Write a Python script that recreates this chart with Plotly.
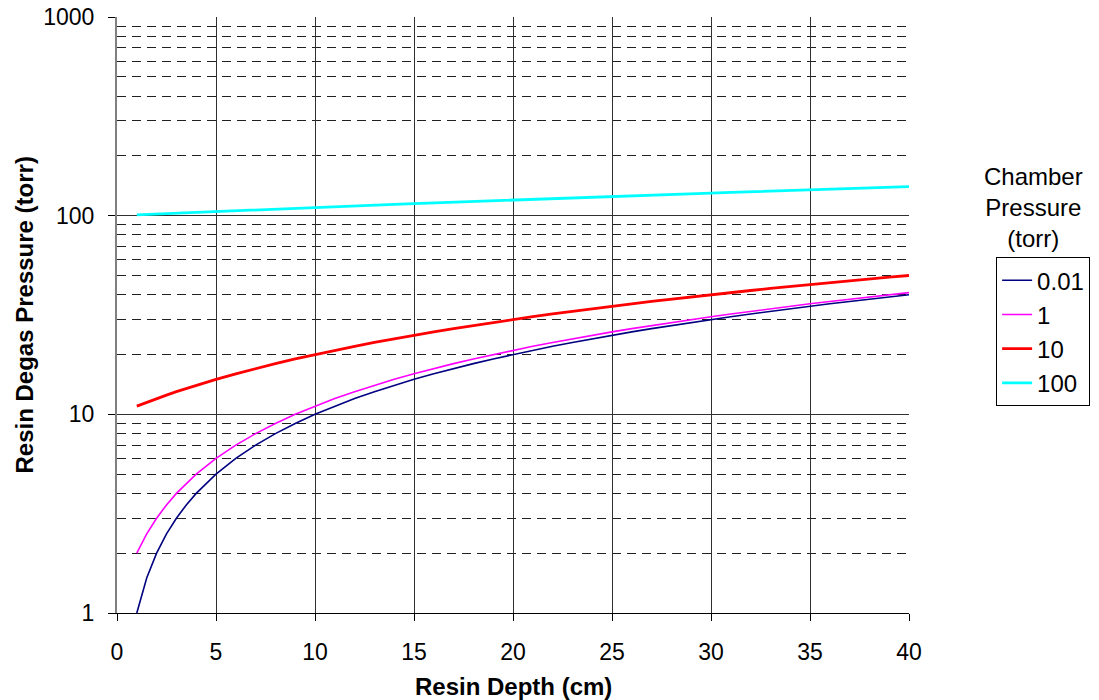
import plotly.graph_objects as go

depth = [1, 1.5, 2, 2.5, 3, 3.5, 4, 5, 6, 7, 8, 9, 10, 11, 12, 13, 14, 15, 16, 17, 18, 19, 20,
         21, 22, 23, 24, 25, 26, 27, 28, 29, 30, 31, 32, 33, 34, 35, 36, 37, 38, 39, 40]

p_001 = [1.0, 1.5, 2.0, 2.5, 3.0, 3.5, 4.0, 5.0, 6.0, 7.0, 8.0, 9.0, 10.0, 11.0, 12.0, 13.0,
         14.0, 15.0, 16.0, 17.0, 18.0, 19.0, 20.0, 21.0, 22.0, 23.0, 24.0, 25.0, 26.0, 27.0,
         28.0, 29.0, 30.0, 31.0, 32.0, 33.0, 34.0, 35.0, 36.0, 37.0, 38.0, 39.0, 40.0]
p_1 = [2.0, 2.5, 3.0, 3.5, 4.0, 4.5, 5.0, 6.0, 7.0, 8.0, 9.0, 10.0, 11.0, 12.0, 13.0, 14.0,
       15.0, 16.0, 17.0, 18.0, 19.0, 20.0, 21.0, 22.0, 23.0, 24.0, 25.0, 26.0, 27.0, 28.0,
       29.0, 30.0, 31.0, 32.0, 33.0, 34.0, 35.0, 36.0, 37.0, 38.0, 39.0, 40.0, 41.0]
p_10 = [11.0, 11.5, 12.0, 12.5, 13.0, 13.5, 14.0, 15.0, 16.0, 17.0, 18.0, 19.0, 20.0, 21.0,
        22.0, 23.0, 24.0, 25.0, 26.0, 27.0, 28.0, 29.0, 30.0, 31.0, 32.0, 33.0, 34.0, 35.0,
        36.0, 37.0, 38.0, 39.0, 40.0, 41.0, 42.0, 43.0, 44.0, 45.0, 46.0, 47.0, 48.0, 49.0, 50.0]
p_100 = [101, 101.5, 102, 102.5, 103, 103.5, 104, 105, 106, 107, 108, 109, 110, 111, 112, 113,
         114, 115, 116, 117, 118, 119, 120, 121, 122, 123, 124, 125, 126, 127, 128, 129, 130,
         131, 132, 133, 134, 135, 136, 137, 138, 139, 140]

series_names = ["0.01", "1", "10", "100"]
series_vals = [p_001, p_1, p_10, p_100]
colors = ["#000080", "#FF00FF", "#FF0000", "#00FFFF"]
widths = [1.6, 1.6, 2.8, 2.8]

x_ticks = [0, 5, 10, 15, 20, 25, 30, 35, 40]
y_ticks = [1, 10, 100, 1000]
y_minor = [2, 3, 4, 5, 6, 7, 8, 9, 20, 30, 40, 50, 60, 70, 80, 90,
           200, 300, 400, 500, 600, 700, 800, 900]

x_title = "Resin Depth (cm)"
y_title = "Resin Degas Pressure (torr)"
legend_title = "Chamber<br>Pressure<br>(torr)"

FONT = "Liberation Sans, Arial, sans-serif"

fig = go.Figure()
for name, vals, c, w in zip(series_names, series_vals, colors, widths):
    fig.add_trace(go.Scatter(x=depth, y=vals, mode="lines", name=name,
                             line=dict(color=c, width=w)))

fig.update_layout(
    width=1099, height=700,
    margin=dict(l=117, r=190, t=17, b=87, autoexpand=False),
    paper_bgcolor="white", plot_bgcolor="white",
    font=dict(family=FONT, size=23, color="black"),
    showlegend=True,
    legend=dict(x=1.11, y=0.597, xanchor="left", yanchor="top",
                bordercolor="black", borderwidth=1, bgcolor="white",
                font=dict(size=24), tracegroupgap=0),
    xaxis=dict(range=[0, 40], tickvals=x_ticks, ticktext=[str(v) for v in x_ticks],
               showgrid=True, gridcolor="#303030", gridwidth=1,
               ticks="outside", ticklen=7, tickcolor="black", ticklabelstandoff=11,
               showline=True, linecolor="black", linewidth=1, mirror=False,
               zeroline=False, automargin=False),
    yaxis=dict(type="log", range=[0, 3], tickvals=y_ticks, ticktext=[str(v) for v in y_ticks],
               showgrid=True, gridcolor="#303030", gridwidth=1,
               ticks="outside", ticklen=7, tickcolor="black", ticklabelstandoff=9,
               showline=True, linecolor="#808080", linewidth=2, mirror=False,
               zeroline=False, automargin=False,
               minor=dict(tickvals=y_minor, showgrid=True, gridcolor="#202020", gridwidth=1,
                          griddash="9px,6px", ticks="")),
    annotations=[
        dict(text=legend_title, xref="paper", yref="paper",
             x=1.1566, y=0.681, xanchor="center", yanchor="middle",
             showarrow=False, align="center", font=dict(size=24)),
        dict(text="<b>" + x_title + "</b>", xref="paper", yref="paper",
             x=0.5, y=-0.124, xanchor="center", yanchor="middle",
             showarrow=False, font=dict(size=24)),
        dict(text="<b>" + y_title + "</b>", xref="paper", yref="paper",
             x=-0.118, y=0.5, xanchor="center", yanchor="middle", textangle=-90,
             showarrow=False, font=dict(size=24)),
    ],
)

fig.write_html("out.html")
